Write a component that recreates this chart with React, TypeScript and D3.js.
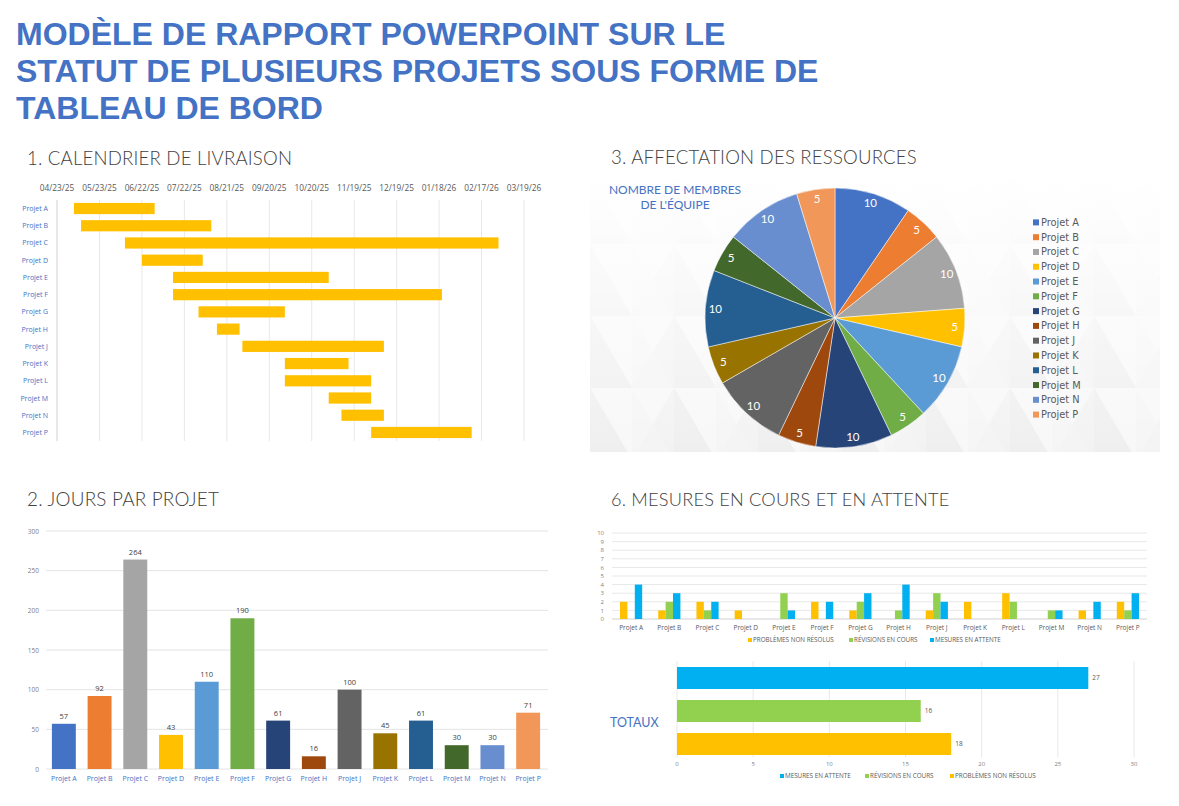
import React from "react";
import * as d3 from "d3";

const titleLines = [
  "MODÈLE DE RAPPORT POWERPOINT SUR LE",
  "STATUT DE PLUSIEURS PROJETS SOUS FORME DE",
  "TABLEAU DE BORD",
];
const projects = ["Projet A","Projet B","Projet C","Projet D","Projet E","Projet F","Projet G","Projet H","Projet J","Projet K","Projet L","Projet M","Projet N","Projet P"];
const projectColors = ["#4472C4","#ED7D31","#A5A5A5","#FFC000","#5B9BD5","#70AD47","#264478","#9E480E","#636363","#997300","#255E91","#43682B","#698ED0","#F1975A"];
const startDates = ["05/05/25","05/10/25","06/10/25","06/22/25","07/14/25","07/14/25","08/01/25","08/14/25","09/01/25","10/01/25","10/01/25","11/01/25","11/10/25","12/01/25"];
const daysPerProject = [57,92,264,43,110,190,61,16,100,45,61,30,30,71];
const ganttTicks = ["04/23/25","05/23/25","06/22/25","07/22/25","08/21/25","09/20/25","10/20/25","11/19/25","12/19/25","01/18/26","02/17/26","03/19/26"];
const teamMembers = [10,5,10,5,10,5,10,5,10,5,10,5,10,5];
const dayTicks = [0,50,100,150,200,250,300];
const unresolved = [2,1,2,1,0,2,1,0,1,2,3,0,1,2];
const revisions = [0,2,1,0,3,0,2,1,3,0,2,1,0,1];
const pending = [4,3,2,0,1,2,3,4,2,0,0,1,2,3];
const statusSeries = ["PROBLÈMES NON RÉSOLUS","RÉVISIONS EN COURS","MESURES EN ATTENTE"];
const statusColors = ["#FFC000","#92D050","#00B0F0"];
const statusTicks = [0,1,2,3,4,5,6,7,8,9,10];
const totalTicks = [0,5,10,15,20,25,30];

const BLUE = "#4472C4";
const GRAY = "#595959";
const SECTION_FONT = "Lato, 'Open Sans', sans-serif";
const SMALL_FONT = "'Open Sans', 'DejaVu Sans', sans-serif";
const WIDE_FONT = "'DejaVu Sans', 'Open Sans', sans-serif";

function SectionTitle({ x, y, text, size = 18.6 }: { x: number; y: number; text: string; size?: number }) {
  return (
    <text x={x} y={y} fontFamily={SECTION_FONT} fontWeight={300} fontSize={size} fill="#404040" style={{ letterSpacing: "0.2px" }}>
      {text}
    </text>
  );
}

function Gantt() {
  const parse = d3.timeParse("%m/%d/%y");
  const tickDates = ganttTicks.map((t) => parse(t) as Date);
  const x = d3.scaleTime().domain([tickDates[0], tickDates[tickDates.length - 1]]).range([57, 524]);
  const y = d3.scaleBand().domain(projects).range([200, 441]).paddingInner(0.35).paddingOuter(0.17);
  return (
    <g>
      <SectionTitle x={27} y={165} text="1. CALENDRIER DE LIVRAISON" />
      {tickDates.map((d, i) => (
        <g key={i}>
          <line x1={x(d)} x2={x(d)} y1={200} y2={441} stroke={i === 0 ? "#d0d0d0" : "#e8e8e8"} strokeWidth={1} />
          <text x={x(d)} y={191} textAnchor="middle" fontFamily={SMALL_FONT} fontSize={8.3} fill={GRAY}>
            {ganttTicks[i]}
          </text>
        </g>
      ))}
      {projects.map((p, i) => {
        const s = parse(startDates[i]) as Date;
        const e = d3.timeDay.offset(s, daysPerProject[i]);
        return (
          <g key={p}>
            <rect x={x(s)} y={y(p)} width={x(e) - x(s)} height={y.bandwidth()} fill="#FFC000" />
            <text x={48} y={(y(p) as number) + y.bandwidth() / 2 + 2.5} textAnchor="end" fontFamily={SMALL_FONT} fontSize={7} fill={BLUE}>
              {p}
            </text>
          </g>
        );
      })}
    </g>
  );
}

function DaysChart() {
  const x = d3.scaleBand().domain(projects).range([46, 546]).paddingInner(0.33).paddingOuter(0.165);
  const y = d3.scaleLinear().domain([0, 300]).range([769, 531]);
  return (
    <g>
      <SectionTitle x={27} y={506} text="2. JOURS PAR PROJET" size={18.9} />
      {dayTicks.map((t) => (
        <g key={t}>
          <line x1={46} x2={548} y1={y(t)} y2={y(t)} stroke="#e4e4e4" />
          <text x={39} y={y(t) + 2.5} textAnchor="end" fontFamily={SMALL_FONT} fontSize={6.5} fill="#7f7f7f">
            {t}
          </text>
        </g>
      ))}
      {projects.map((p, i) => (
        <g key={p}>
          <rect x={x(p)} y={y(daysPerProject[i])} width={x.bandwidth()} height={y(0) - y(daysPerProject[i])} fill={projectColors[i]} />
          <text x={(x(p) as number) + x.bandwidth() / 2} y={y(daysPerProject[i]) - 5} textAnchor="middle" fontFamily={SMALL_FONT} fontSize={7.5} fill="#404040">
            {daysPerProject[i]}
          </text>
          <text x={(x(p) as number) + x.bandwidth() / 2} y={781} textAnchor="middle" fontFamily={SMALL_FONT} fontSize={7} fill={BLUE}>
            {p}
          </text>
        </g>
      ))}
    </g>
  );
}

function PieChart() {
  const cx = 835;
  const cy = 318;
  const r = 130;
  const arcs = d3.pie<number>().sort(null).value((d) => d)(teamMembers);
  const arc = d3.arc<d3.PieArcDatum<number>>().innerRadius(0).outerRadius(r);
  const labelArc = d3.arc<d3.PieArcDatum<number>>().innerRadius(120).outerRadius(120);
  const legendY = d3.scaleBand().domain(projects).range([215, 422]);
  return (
    <g>
      <defs>
        <pattern id="tri" width={84} height={72} patternUnits="userSpaceOnUse" x={590} y={172}>
          <rect width={84} height={72} fill="#efefef" />
          <polygon points="0,0 84,0 42,72" fill="#f6f6f6" />
          <polygon points="42,72 0,0 0,72" fill="#ebebeb" />
          <polygon points="42,0 84,72 42,72" fill="#f2f2f2" opacity={0.6} />
        </pattern>
        <linearGradient id="fade" x1="0" y1="0" x2="0" y2="1">
          <stop offset="0" stopColor="#ffffff" stopOpacity={1} />
          <stop offset="0.4" stopColor="#ffffff" stopOpacity={0.7} />
          <stop offset="1" stopColor="#ffffff" stopOpacity={0.2} />
        </linearGradient>
      </defs>
      <rect x={590} y={172} width={570} height={280} fill="url(#tri)" />
      <rect x={590} y={172} width={570} height={280} fill="url(#fade)" />
      <SectionTitle x={611} y={164} text="3. AFFECTATION DES RESSOURCES" />
      <text x={675} y={194} textAnchor="middle" fontFamily={SECTION_FONT} fontSize={12} fill={BLUE}>
        NOMBRE DE MEMBRES
      </text>
      <text x={675} y={209} textAnchor="middle" fontFamily={SECTION_FONT} fontSize={12} fill={BLUE}>
        DE L'ÉQUIPE
      </text>
      <g transform={`translate(${cx},${cy})`}>
        {arcs.map((a, i) => (
          <path key={i} d={arc(a) as string} fill={projectColors[i]} stroke="#ffffff" strokeWidth={0.5} />
        ))}
        {arcs.map((a, i) => {
          const [lx, ly] = labelArc.centroid(a);
          return (
            <text key={i} x={lx} y={ly + 4} textAnchor="middle" fontFamily={SECTION_FONT} fontSize={11.5} fill="#ffffff">
              {teamMembers[i]}
            </text>
          );
        })}
      </g>
      {projects.map((p, i) => (
        <g key={p}>
          <rect x={1033} y={(legendY(p) as number) + legendY.bandwidth() / 2 - 3} width={6} height={6} fill={projectColors[i]} />
          <text x={1041} y={(legendY(p) as number) + legendY.bandwidth() / 2 + 3.5} fontFamily={WIDE_FONT} fontSize={9.8} fill={GRAY}>
            {p}
          </text>
        </g>
      ))}
    </g>
  );
}

function StatusChart() {
  const series = [unresolved, revisions, pending];
  const x = d3.scaleBand().domain(projects).range([612, 1147]).paddingInner(0.42).paddingOuter(0.21);
  const xi = d3.scaleBand<number>().domain([0, 1, 2]).range([0, x.bandwidth()]).padding(0);
  const y = d3.scaleLinear().domain([0, 10]).range([619, 533]);
  const legendX = [748, 849, 930];
  return (
    <g>
      <SectionTitle x={611} y={506} text="6. MESURES EN COURS ET EN ATTENTE" size={18.2} />
      {statusTicks.map((t) => (
        <g key={t}>
          <line x1={612} x2={1147} y1={y(t)} y2={y(t)} stroke={t === 0 ? "#d0d0d0" : "#e8e8e8"} />
          <text x={604} y={y(t) + 2.2} textAnchor="end" fontFamily={SMALL_FONT} fontSize={6} fill="#7f7f7f">
            {t}
          </text>
        </g>
      ))}
      {projects.map((p, i) => (
        <g key={p}>
          {series.map((s, k) =>
            s[i] > 0 ? (
              <rect key={k} x={(x(p) as number) + (xi(k) as number)} y={y(s[i])} width={xi.bandwidth()} height={y(0) - y(s[i])} fill={statusColors[k]} />
            ) : null
          )}
          <text x={(x(p) as number) + x.bandwidth() / 2} y={630} textAnchor="middle" fontFamily={SMALL_FONT} fontSize={6.5} fill={GRAY}>
            {p}
          </text>
        </g>
      ))}
      {statusSeries.map((s, k) => (
        <g key={s}>
          <rect x={legendX[k]} y={638} width={4} height={4} fill={statusColors[k]} />
          <text x={legendX[k] + 5} y={642} fontFamily={SMALL_FONT} fontSize={6.3} fill={GRAY}>
            {s}
          </text>
        </g>
      ))}
      <TotalsChart />
    </g>
  );
}

function TotalsChart() {
  const order = [2, 1, 0];
  const series = [unresolved, revisions, pending];
  const totals = series.map((s) => d3.sum(s));
  const x = d3.scaleLinear().domain([0, 30]).range([677, 1134]);
  const y = d3.scaleBand<number>().domain(order).range([661.5, 760.5]).paddingInner(1 / 3).paddingOuter(1 / 6);
  const legendX = [780, 865, 950];
  return (
    <g>
      {totalTicks.map((t) => (
        <g key={t}>
          <line x1={x(t)} x2={x(t)} y1={661} y2={757} stroke="#e8e8e8" />
          <text x={x(t)} y={766} textAnchor="middle" fontFamily={SMALL_FONT} fontSize={6} fill="#7f7f7f">
            {t}
          </text>
        </g>
      ))}
      {order.map((k) => (
        <g key={k}>
          <rect x={x(0)} y={y(k)} width={x(totals[k]) - x(0)} height={y.bandwidth()} fill={statusColors[k]} />
          <text x={x(totals[k]) + 4} y={(y(k) as number) + y.bandwidth() / 2 + 2} fontFamily={SMALL_FONT} fontSize={6.5} fill={GRAY}>
            {totals[k]}
          </text>
        </g>
      ))}
      <text x={610} y={727} fontFamily={SECTION_FONT} fontSize={12.5} fill={BLUE}>
        TOTAUX
      </text>
      {order.map((k, j) => (
        <g key={k}>
          <rect x={legendX[j]} y={774} width={4} height={4} fill={statusColors[k]} />
          <text x={legendX[j] + 5} y={778} fontFamily={SMALL_FONT} fontSize={6.3} fill={GRAY}>
            {statusSeries[k]}
          </text>
        </g>
      ))}
    </g>
  );
}

export default function App() {
  return (
    <svg width={1179} height={806} style={{ position: "absolute", left: 0, top: 0, display: "block", background: "#ffffff" }}>
      <rect width={1179} height={806} fill="#ffffff" />
      {titleLines.map((l, i) => (
        <text key={i} x={16} y={45 + i * 37} fontFamily="'Liberation Sans', Arial, sans-serif" fontWeight="bold" fontSize={32} fill={BLUE}>
          {l}
        </text>
      ))}
      <Gantt />
      <PieChart />
      <DaysChart />
      <StatusChart />
    </svg>
  );
}
